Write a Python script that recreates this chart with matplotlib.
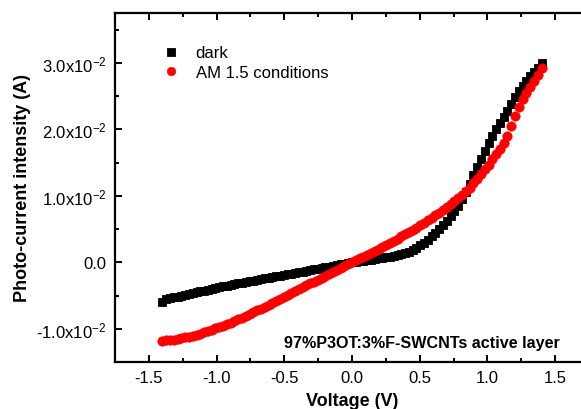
import matplotlib
matplotlib.use("Agg")
import matplotlib.pyplot as plt
import numpy as np
from matplotlib.ticker import MultipleLocator, FixedLocator, FixedFormatter

plt.rcParams['font.family'] = ['Liberation Sans', 'DejaVu Sans']
plt.rcParams['mathtext.fontset'] = 'custom'
plt.rcParams['mathtext.rm'] = 'Liberation Sans'
plt.rcParams['mathtext.it'] = 'Liberation Sans'
plt.rcParams['mathtext.bf'] = 'Liberation Sans:bold'

# Voltage sweep (V)
voltage = [
    -1.400, -1.372, -1.344, -1.316, -1.288, -1.260, -1.232, -1.204, -1.176, -1.148,
    -1.120, -1.092, -1.064, -1.036, -1.008, -0.980, -0.952, -0.924, -0.896, -0.868,
    -0.840, -0.812, -0.784, -0.756, -0.728, -0.700, -0.672, -0.644, -0.616, -0.588,
    -0.560, -0.532, -0.504, -0.476, -0.448, -0.420, -0.392, -0.364, -0.336, -0.308,
    -0.280, -0.252, -0.224, -0.196, -0.168, -0.140, -0.112, -0.084, -0.056, -0.028,
    0.000, 0.028, 0.056, 0.084, 0.112, 0.140, 0.168, 0.196, 0.224, 0.252,
    0.280, 0.308, 0.336, 0.364, 0.392, 0.420, 0.448, 0.476, 0.504, 0.532,
    0.560, 0.588, 0.616, 0.644, 0.672, 0.700, 0.728, 0.756, 0.784, 0.812,
    0.840, 0.868, 0.896, 0.924, 0.952, 0.980, 1.008, 1.036, 1.064, 1.092,
    1.120, 1.148, 1.176, 1.204, 1.232, 1.260, 1.288, 1.316, 1.344, 1.372,
    1.400,
]

# Dark current (mA)
dark_mA = [
    -5.90, -5.55, -5.40, -5.28, -5.15, -5.02, -4.90, -4.77, -4.64, -4.51,
    -4.38, -4.25, -4.12, -3.98, -3.85, -3.73, -3.62, -3.51, -3.40, -3.29,
    -3.18, -3.07, -2.96, -2.85, -2.75, -2.64, -2.54, -2.43, -2.33, -2.22,
    -2.12, -2.02, -1.91, -1.81, -1.70, -1.60, -1.49, -1.39, -1.28, -1.18,
    -1.07, -0.96, -0.86, -0.75, -0.64, -0.54, -0.43, -0.32, -0.21, -0.10,
    0.00, 0.08, 0.16, 0.24, 0.33, 0.41, 0.49, 0.58, 0.67, 0.77,
    0.87, 0.98, 1.10, 1.24, 1.40, 1.59, 1.90, 2.20, 2.55, 2.95,
    3.40, 3.88, 4.40, 4.95, 5.55, 6.20, 6.90, 7.65, 8.50, 9.45,
    10.50, 11.80, 13.10, 14.40, 15.60, 16.80, 17.90, 19.00, 20.00, 20.90,
    21.80, 22.80, 23.80, 24.80, 25.70, 26.50, 27.30, 28.00, 28.60, 29.30,
    30.00,
]

# Current under AM 1.5 illumination (mA)
light_mA = [
    -11.80, -11.76, -11.71, -11.65, -11.56, -11.45, -11.31, -11.17, -11.03, -10.88,
    -10.72, -10.55, -10.36, -10.16, -9.96, -9.75, -9.53, -9.30, -9.07, -8.83,
    -8.57, -8.31, -8.05, -7.79, -7.52, -7.25, -6.98, -6.70, -6.41, -6.12,
    -5.83, -5.54, -5.24, -4.95, -4.66, -4.36, -4.07, -3.78, -3.48, -3.19,
    -2.90, -2.61, -2.33, -2.04, -1.75, -1.46, -1.17, -0.88, -0.59, -0.30,
    0.00, 0.29, 0.58, 0.87, 1.16, 1.45, 1.74, 2.04, 2.34, 2.64,
    2.95, 3.26, 3.57, 3.89, 4.21, 4.54, 4.88, 5.22, 5.57, 5.93,
    6.30, 6.68, 7.07, 7.47, 7.88, 8.30, 8.74, 9.19, 9.66, 10.15,
    10.65, 11.25, 11.90, 12.60, 13.30, 14.00, 14.70, 15.50, 16.30, 17.10,
    18.00, 19.00, 20.50, 22.00, 23.40, 24.50, 25.40, 26.30, 27.20, 28.20,
    29.20,
]

series_labels = ["dark", "AM 1.5 conditions"]
y_tick_values = [-0.01, 0.0, 0.01, 0.02, 0.03]
y_tick_labels = [r"-1.0x10$^{-2}$", "0.0", r"1.0x10$^{-2}$", r"2.0x10$^{-2}$", r"3.0x10$^{-2}$"]
annotation = "97%P3OT:3%F-SWCNTs active layer"

V = np.array(voltage)
I_dark = np.array(dark_mA) * 1e-3
I_light = np.array(light_mA) * 1e-3

W, H = 581, 410
fig = plt.figure(figsize=(W / 100, H / 100), dpi=100)
ax = fig.add_axes([115 / W, (H - 363) / H, (589 - 115) / W, (363 - 14) / H])

ax.plot(V, I_dark, linestyle='none', marker='s', markersize=6.0, color='black',
        markeredgewidth=0.6, label=series_labels[0])
ax.plot(V, I_light, linestyle='none', marker='o', markersize=6.8, color='#ff0000',
        markeredgewidth=0.4, label=series_labels[1])

ax.set_xlim(-1.75, 1.75)
ax.set_ylim(-0.015, 0.0375)
ax.xaxis.set_major_locator(MultipleLocator(0.5))
ax.xaxis.set_minor_locator(MultipleLocator(0.25))
ax.yaxis.set_major_locator(FixedLocator(y_tick_values))
ax.yaxis.set_major_formatter(FixedFormatter(y_tick_labels))
ax.yaxis.set_minor_locator(MultipleLocator(0.005))
ax.xaxis.set_major_formatter(matplotlib.ticker.FuncFormatter(lambda v, p: f"{v:.1f}"))

for s in ax.spines.values():
    s.set_linewidth(1.6)
ax.tick_params(which='both', direction='in', top=True, right=True, width=1.4)
ax.tick_params(which='major', length=5, labelsize=12, pad=6)
ax.tick_params(which='minor', length=3)

ax.set_xlabel("Voltage (V)", fontsize=13, fontweight='bold', labelpad=5)
ax.set_ylabel("Photo-current intensity (A)", fontsize=13, fontweight='bold', labelpad=4)

leg = ax.legend(loc='upper left', bbox_to_anchor=(0.068, 0.95), frameon=False,
                fontsize=12, handletextpad=1.0, labelspacing=0.25,
                handlelength=1.0, markerscale=0.9)

ax.text(0.939, 0.057, annotation, transform=ax.transAxes, ha='right', va='center',
        fontsize=11.6, fontweight='bold')

fig.savefig("out.png", dpi=100)
